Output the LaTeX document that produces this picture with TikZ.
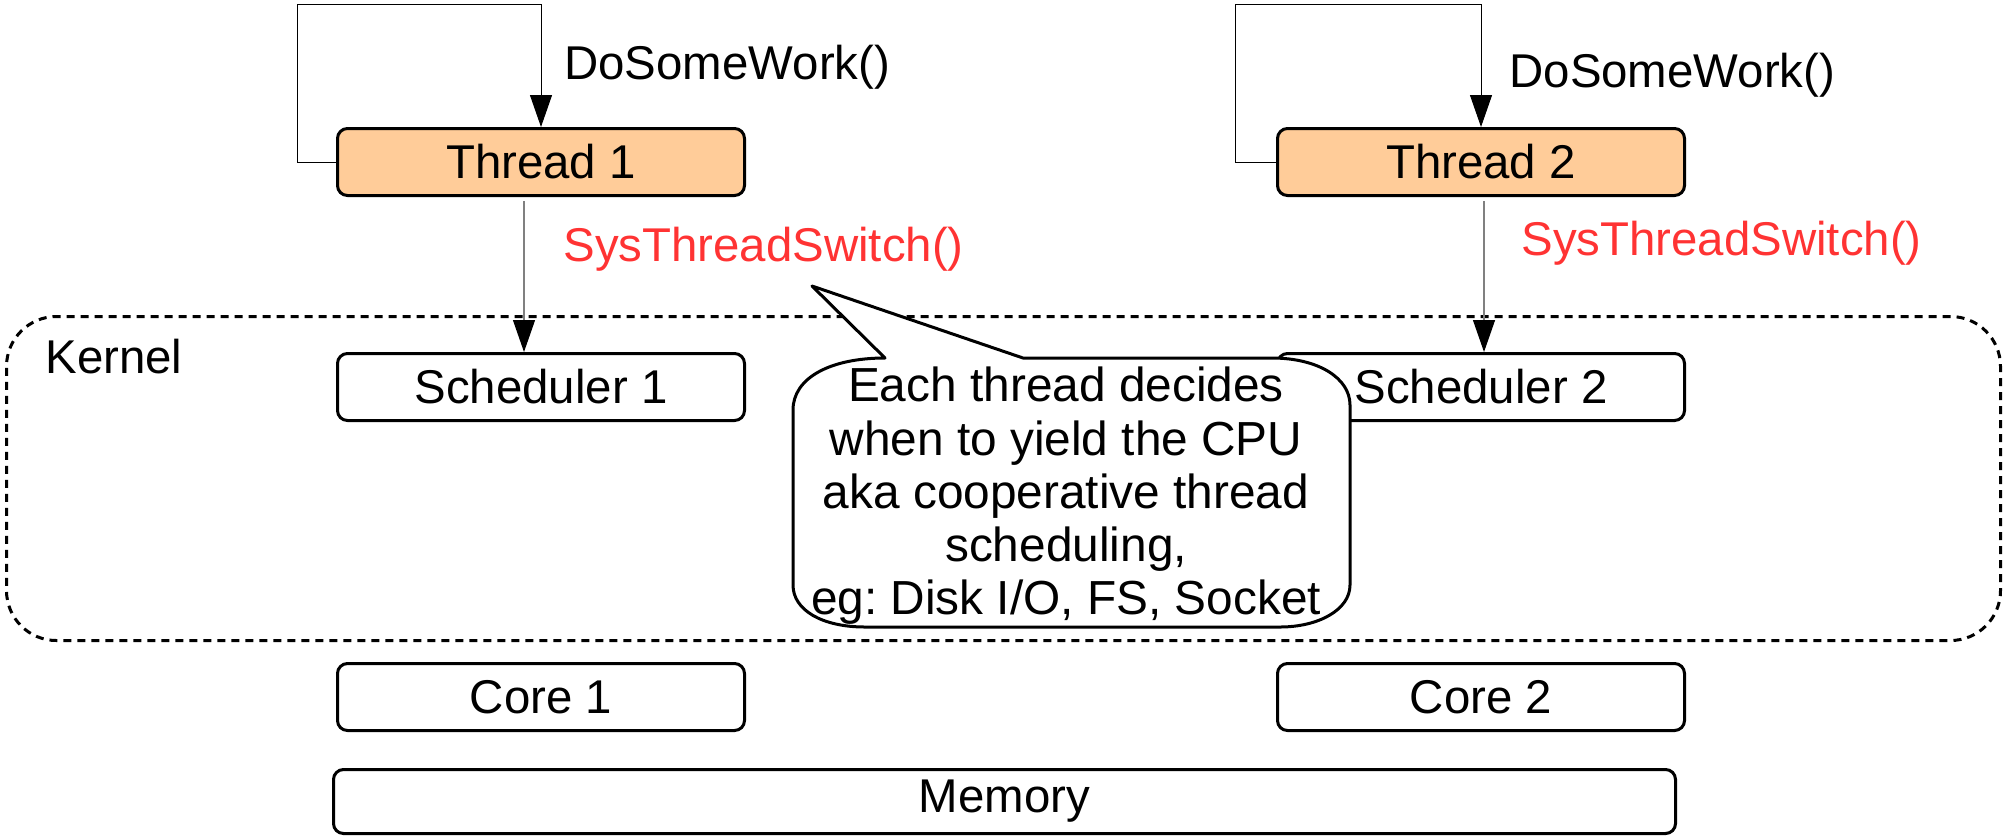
\documentclass[tikz,border=0pt]{standalone}
\usepackage{fontspec}
\setmainfont{Liberation Sans}
\usetikzlibrary{positioning, arrows.meta}
\definecolor{threadFill}{HTML}{FFCC99}
\definecolor{callRed}{HTML}{FF3333}
\definecolor{linkGray}{HTML}{808080}
\frenchspacing

\begin{document}
\begin{tikzpicture}[
  x=0.5pt, y=-0.5pt,
  font=\fontsize{23.7pt}{27.3pt}\selectfont,
  block/.style={draw, line width=1.5pt, rounded corners=5pt, fill=white,
                minimum width=203.5pt, minimum height=33.5pt, inner sep=0pt},
  thread/.style={block, fill=threadFill},
  tag/.style={anchor=west, inner sep=0pt},
  syscall/.style={tag, text=callRed},
  tip/.style={-{Triangle[length=16pt, width=11pt, color=black]}},
  cycleline/.style={tip, draw=black, line width=0.5pt},
  hop/.style={tip, draw=linkGray, line width=0.6pt},
]
  \useasboundingbox (0,0) rectangle (2011,837);

  % kernel area
  \node[draw, line width=1.5pt, dash pattern=on 4pt off 3pt, rounded corners=25pt,
        minimum width=997pt, minimum height=162pt] (kernel) at (1003.5,478.5) {};
  \node[tag] (kernelname) at (45,357) {Kernel};

  % threads, schedulers, cores
  \node[thread] (thread1) at (541,162) {Thread 1};
  \node[thread] (thread2) at (1481,162) {Thread 2};
  \node[block] (sched1) at (541,387) {Scheduler 1};
  \node[block] (sched2) at (1481,387) {Scheduler 2};
  \node[block] (core1) at (541,697) {Core 1};
  \node[block] (core2) at (1481,697) {Core 2};
  \node[block, minimum width=671pt, minimum height=32pt] (memory) at (1004.5,801.5) {Memory};

  % work loops
  \coordinate (loop1) at (297,4);
  \coordinate (loop2) at (1235,4);
  \draw[cycleline] (thread1.west) -| (loop1) -| (thread1.north);
  \draw[cycleline] (thread2.west) -| (loop2) -| (thread2.north);
  \node[tag] (work1) at (564,67) {DoSomeWork()};
  \node[tag] (work2) at (1509,75) {DoSomeWork()};

  % switch into the kernel
  \draw[hop] ([xshift=-8.5pt, yshift=-2pt]thread1.south) -- ([xshift=-8.5pt]sched1.north);
  \draw[hop] ([xshift=1.5pt, yshift=-2pt]thread2.south) -- ([xshift=1.5pt]sched2.north);
  \node[syscall] (switch1) at (563,249) {SysThreadSwitch()};
  \node[syscall] (switch2) at (1521,243) {SysThreadSwitch()};

  % callout
  \coordinate (pin) at (812,286);
  \filldraw[fill=white, line width=1.5pt, line join=round]
    (885,358) -- (pin) -- (1023,358) -- (1272,358)
    .. controls (1318,358) and (1350,378) .. (1350,405) -- (1350,585)
    .. controls (1350,610) and (1318,627) .. (1280,627) -- (865,627)
    .. controls (822,627) and (793,610) .. (793,585) -- (793,410)
    .. controls (793,378) and (830,358) .. (885,358) -- cycle;
  \node[align=center, inner sep=0pt, font=\fontsize{23.9pt}{26.6pt}\selectfont] (note) at (1066,496)
    {Each thread decides\\when to yield the CPU\\aka cooperative thread\\scheduling,\\eg: Disk I/O, FS, Socket};
\end{tikzpicture}
\end{document}
